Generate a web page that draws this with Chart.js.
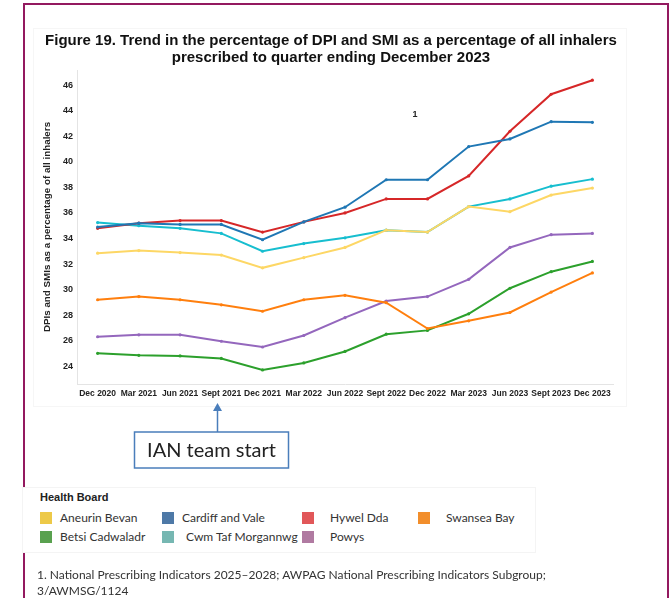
<!DOCTYPE html>
<html>
<head>
<meta charset="utf-8">
<script src="https://cdn.jsdelivr.net/npm/chart.js@4"></script>
<style>
  body { margin: 0; width: 672px; height: 598px; background: #fff; position: relative; overflow: hidden; font-family: "Liberation Sans", Arial, sans-serif; }
  #frame { position: absolute; left: 23px; top: 3px; width: 642px; height: 620px; border: 2px solid #93195f; }
  #figbox { position: absolute; left: 33px; top: 28px; width: 592px; height: 377px; border: 1px solid #f6f6f6; background: #fff; }
  #title { position: absolute; left: 0; top: 31px; width: 662px; text-align: center; font-weight: bold; font-size: 15px; line-height: 17px; color: #111; z-index: 2; }
  #chart { position: absolute; left: 0; top: 0; z-index: 1; }
  #legend { position: absolute; left: 22px; top: 487px; width: 512px; height: 64px; background: #fff; border: 1px solid #f4f4f4; z-index: 2; font-family: Lato, "Noto Sans", sans-serif; color: #333; }
  #legend .hdr { position: absolute; left: 17px; top: 3px; font-family: "Liberation Sans", Arial, sans-serif; font-weight: bold; font-size: 11px; color: #222; }
  #legend .item { position: absolute; font-size: 12px; height: 14px; line-height: 14px; white-space: nowrap; }
  #legend .sw { display: inline-block; width: 12px; height: 12px; vertical-align: -2px; margin-right: 8px; }
  #note { position: absolute; left: 37px; top: 567px; font-family: Lato, "Noto Sans", sans-serif; font-size: 12px; line-height: 16px; color: #333; z-index: 2; }
</style>
</head>
<body>
<div id="frame"></div>
<div id="figbox"></div>
<div id="title">Figure 19. Trend in the percentage of DPI and SMI as a percentage of all inhalers<br>prescribed to quarter ending December 2023</div>
<canvas id="chart" width="672" height="598"></canvas>
<div id="legend"><div class="hdr">Health Board</div></div>
<div id="note">1. National Prescribing Indicators 2025–2028; AWPAG National Prescribing Indicators Subgroup;<br>3/AWMSG/1124</div>
<script>
const quarters = ['Dec 2020', 'Mar 2021', 'Jun 2021', 'Sept 2021', 'Dec 2021', 'Mar 2022', 'Jun 2022',
  'Sept 2022', 'Dec 2022', 'Mar 2023', 'Jun 2023', 'Sept 2023', 'Dec 2023'];

const aneurinBevan = [32.85, 33.05, 32.9, 32.7, 31.7, 32.5, 33.3, 34.65, 34.5, 36.5, 36.1, 37.4, 37.95];
const cardiffVale = [34.9, 35.2, 35.1, 35.1, 33.9, 35.3, 36.45, 38.6, 38.6, 41.2, 41.8, 43.15, 43.1];
const hywelDda = [34.8, 35.2, 35.4, 35.4, 34.5, 35.3, 36.0, 37.1, 37.1, 38.9, 42.4, 45.3, 46.4];
const swanseaBay = [29.2, 29.45, 29.2, 28.8, 28.3, 29.2, 29.55, 28.97, 26.95, 27.55, 28.2, 29.8, 31.3];
const betsiCadwaladr = [25.0, 24.85, 24.8, 24.6, 23.7, 24.25, 25.15, 26.5, 26.8, 28.1, 30.1, 31.4, 32.2];
const cwmTaf = [35.25, 35.0, 34.8, 34.4, 33.0, 33.6, 34.05, 34.65, 34.5, 36.5, 37.1, 38.1, 38.65];
const powys = [26.3, 26.45, 26.45, 25.95, 25.5, 26.4, 27.8, 29.1, 29.45, 30.8, 33.3, 34.3, 34.4];

const yTicks = [24, 26, 28, 30, 32, 34, 36, 38, 40, 42, 44, 46];

// annotation positions, in data units
const footnoteMark = { index: 7.7, value: 43.7, text: '1' };
const teamStart = { index: 2.9, text: 'IAN team start' };

// legend is laid out in rows like the original (4 + 3)
const boards = [
  { name: 'Aneurin Bevan', data: aneurinBevan, line: '#fdd765', swatch: '#edc948', col: 0, row: 0 },
  { name: 'Cardiff and Vale', data: cardiffVale, line: '#1f77b4', swatch: '#4e79a7', col: 1, row: 0 },
  { name: 'Hywel Dda', data: hywelDda, line: '#d62728', swatch: '#e15759', col: 2, row: 0 },
  { name: 'Swansea Bay', data: swanseaBay, line: '#ff7f0e', swatch: '#f28e2b', col: 3, row: 0 },
  { name: 'Betsi Cadwaladr', data: betsiCadwaladr, line: '#2ca02c', swatch: '#59a14f', col: 0, row: 1 },
  { name: 'Cwm Taf Morgannwg', data: cwmTaf, line: '#17becf', swatch: '#76b7b2', col: 1, row: 1 },
  { name: 'Powys', data: powys, line: '#9467bd', swatch: '#b07aa1', col: 2, row: 1 },
];

const legendCols = [17, 139, 279, 395];
const legendTextGap = [8, 8, 16, 16];
const legendEl = document.getElementById('legend');
boards.forEach((b, i) => {
  const el = document.createElement('div');
  el.className = 'item';
  el.style.left = legendCols[b.col] + 'px';
  el.style.top = (23 + b.row * 19) + 'px';
  const gap = b.name === 'Cwm Taf Morgannwg' ? 12 : legendTextGap[b.col];
  el.innerHTML = `<span class="sw" style="background:${b.swatch};margin-right:${gap}px"></span>${b.name}`;
  legendEl.appendChild(el);
});

const annotations = {
  id: 'annotations',
  afterDraw(chart) {
    const { ctx, chartArea } = chart;
    const x = chart.scales.x;
    const y = chart.scales.y;
    ctx.save();

    ctx.fillStyle = '#222';
    ctx.font = 'bold 9px "Liberation Sans", Arial';
    ctx.textAlign = 'center';
    ctx.textBaseline = 'middle';
    ctx.fillText(footnoteMark.text, x.getPixelForValue(footnoteMark.index), y.getPixelForValue(footnoteMark.value));

    const ax = Math.round(x.getPixelForValue(teamStart.index)) + 0.5;
    const tipY = chartArea.bottom + 19;
    const boxTop = chartArea.bottom + 48;
    ctx.strokeStyle = '#4a7ebb';
    ctx.fillStyle = '#4a7ebb';
    ctx.lineWidth = 1.5;
    ctx.beginPath();
    ctx.moveTo(ax, boxTop);
    ctx.lineTo(ax, tipY + 6);
    ctx.stroke();
    ctx.beginPath();
    ctx.moveTo(ax, tipY);
    ctx.lineTo(ax - 4.5, tipY + 8);
    ctx.lineTo(ax + 4.5, tipY + 8);
    ctx.closePath();
    ctx.fill();

    const bw = 154, bh = 36;
    const bx = ax - 83;
    ctx.fillStyle = '#fff';
    ctx.fillRect(bx, boxTop, bw, bh);
    ctx.strokeRect(bx, boxTop, bw, bh);
    ctx.fillStyle = '#222';
    ctx.font = '20px Lato, "Noto Sans", sans-serif';
    ctx.fillText(teamStart.text, bx + bw / 2, boxTop + bh / 2 + 1);
    ctx.restore();
  },
};

new Chart(document.getElementById('chart'), {
  type: 'line',
  data: {
    labels: quarters,
    datasets: boards.map(b => ({
      label: b.name,
      data: b.data,
      borderColor: b.line,
      backgroundColor: b.line,
      borderWidth: 2,
      pointRadius: 1.6,
      pointBorderWidth: 0,
      tension: 0,
    })),
  },
  options: {
    responsive: false,
    animation: false,
    devicePixelRatio: 1,
    layout: { padding: { left: 33, top: 70, right: 59, bottom: 188 } },
    plugins: { legend: { display: false }, tooltip: { enabled: false } },
    scales: {
      x: {
        offset: true,
        grid: { display: false, drawTicks: false },
        border: { display: true, color: '#e4e4e4', width: 1 },
        ticks: {
          autoSkip: false, maxRotation: 0, minRotation: 0, padding: 5,
          color: '#222', font: { family: '"Liberation Sans", Arial', weight: 'bold', size: 8.5 },
        },
        afterFit(scale) { scale.height = 26; },
      },
      y: {
        min: 22.6,
        max: 47.2,
        grid: { display: false, drawTicks: false },
        border: { display: true, color: '#e4e4e4', width: 1 },
        afterBuildTicks(axis) { axis.ticks = yTicks.map(v => ({ value: v })); },
        ticks: {
          padding: 4, color: '#222',
          font: { family: '"Liberation Sans", Arial', weight: 'bold', size: 9 },
        },
        title: {
          display: true,
          text: 'DPIs and SMIs as a percentage of all inhalers',
          color: '#222',
          padding: { top: 8, bottom: 0 },
          font: { family: '"Liberation Sans", Arial', weight: 'bold', size: 9.8 },
        },
        afterFit(scale) { scale.width = 44; },
      },
    },
  },
  plugins: [annotations],
});
</script>
</body>
</html>
